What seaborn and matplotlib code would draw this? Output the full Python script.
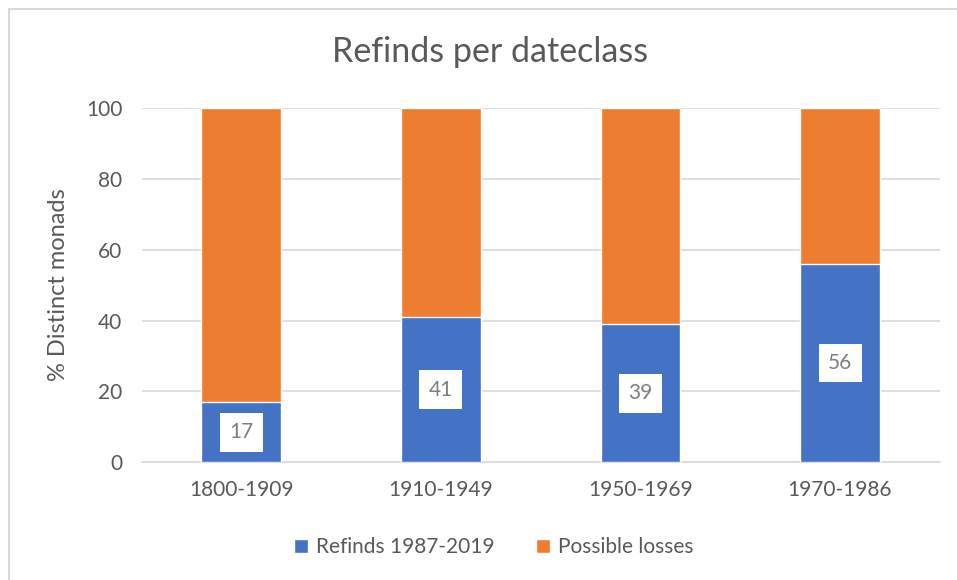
import numpy as np
import pandas as pd
import seaborn as sns
import matplotlib.pyplot as plt
from matplotlib.patches import Rectangle, Patch

# data
dateclasses = ['1800-1909', '1910-1949', '1950-1969', '1970-1986']
refinds = [17, 41, 39, 56]
losses = [83, 59, 61, 44]

blue = '#4472c4'
orange = '#ed7d31'
grey_text = '#595959'

sns.set_theme(style='white')
plt.rcParams['font.family'] = ['Lato', 'DejaVu Sans']

df = pd.DataFrame({'dateclass': dateclasses, 'refinds': refinds, 'losses': losses})
df['total'] = df['refinds'] + df['losses']

fig = plt.figure(figsize=(9.57, 5.80), dpi=100)
ax = fig.add_axes([0.148, 0.203, 0.834, 0.611])

# stacked: orange total behind, blue refinds on top
sns.barplot(data=df, x='dateclass', y='total', color=orange, width=0.4, saturation=1, ax=ax, zorder=2)
sns.barplot(data=df, x='dateclass', y='refinds', color=blue, width=0.4, saturation=1, ax=ax, zorder=3)

# value labels in white boxes
for i, v in enumerate(df['refinds']):
    ax.text(i, v / 2, str(v), ha='center', va='center', fontsize=15, color='#7f7f7f', zorder=5,
            bbox=dict(boxstyle='square,pad=0.45', fc='white', ec='none'))

ax.set_ylim(0, 100)
ax.set_xlim(-0.5, 3.5)
ax.set_yticks(range(0, 101, 20))
ax.yaxis.grid(True, color='#d9d9d9', linewidth=1.2, zorder=0)
ax.set_axisbelow(True)
for s in ['top', 'right', 'left']:
    ax.spines[s].set_visible(False)
ax.spines['bottom'].set_color('#d9d9d9')
ax.spines['bottom'].set_linewidth(1.2)
ax.tick_params(axis='both', length=0, labelsize=15, labelcolor=grey_text)
ax.tick_params(axis='y', pad=14)
ax.tick_params(axis='x', pad=13)
ax.set_xlabel('')
ax.set_ylabel('% Distinct monads', fontsize=17, color=grey_text, labelpad=12)

fig.suptitle('Refinds per dateclass', fontsize=24.5, color=grey_text, x=0.512, y=0.91, va='center')

handles = [Patch(facecolor=blue, label='Refinds 1987-2019'),
           Patch(facecolor=orange, label='Possible losses')]
fig.legend(handles=handles, loc='center', bbox_to_anchor=(0.516, 0.057), ncol=2, frameon=False,
           fontsize=15, labelcolor=grey_text, handlelength=0.65, handleheight=0.65,
           handletextpad=0.4, columnspacing=2.0)

# chart border (only top and left edges fall inside the image)
fig.patches.append(Rectangle((9 / 957, -0.05), 1.1, 1 - 9 / 580 + 0.05, transform=fig.transFigure,
                             fill=False, edgecolor='#d9d9d9', linewidth=1.5))

fig.savefig('out.png', dpi=100)
